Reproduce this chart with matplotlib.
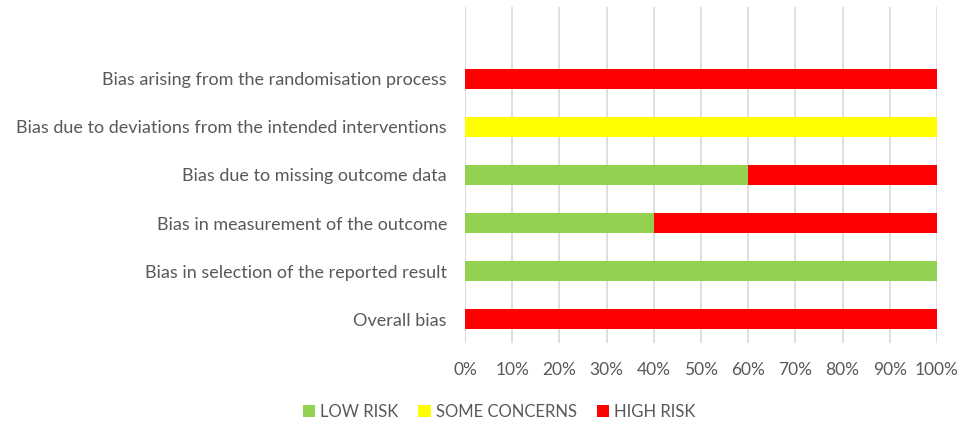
import matplotlib

matplotlib.use("Agg")
import matplotlib.pyplot as plt
from matplotlib.patches import Patch
from matplotlib.ticker import PercentFormatter

domains = [
    "Bias arising from the randomisation process",
    "Bias due to deviations from the intended interventions",
    "Bias due to missing outcome data",
    "Bias in measurement of the outcome",
    "Bias in selection of the reported result",
    "Overall bias",
]
low_risk = [0, 0, 60, 40, 100, 0]
some_concerns = [0, 100, 0, 0, 0, 0]
high_risk = [100, 0, 40, 60, 0, 100]

series = [
    ("LOW RISK", low_risk, "#92D050"),
    ("SOME CONCERNS", some_concerns, "#FFFF00"),
    ("HIGH RISK", high_risk, "#FF0000"),
]

plt.rcParams["font.family"] = ["Lato", "DejaVu Sans"]
text_color = "#595959"

fig = plt.figure(figsize=(9.71, 4.23), dpi=100)
ax = fig.add_axes([0.4789, 0.189, 0.4861, 0.7946])

positions = list(range(len(domains)))
left = [0] * len(domains)
for name, values, color in series:
    ax.barh(positions, values, left=left, height=0.42, color=color, zorder=3)
    left = [a + b for a, b in zip(left, values)]

ax.set_xlim(0, 100)
ax.set_ylim(5.5, -1.5)
ax.set_xticks(range(0, 101, 10))
ax.xaxis.set_major_formatter(PercentFormatter(decimals=0))
ax.set_yticks(positions, labels=domains)
ax.grid(axis="x", color="#D9D9D9", linewidth=1.2, zorder=0)
ax.axvline(0, color="#D9D9D9", linewidth=1.5, zorder=1)
for spine in ax.spines.values():
    spine.set_visible(False)
ax.tick_params(axis="both", length=0, colors=text_color)
ax.tick_params(axis="x", pad=14, labelsize=12.5)
ax.tick_params(axis="y", pad=13, labelsize=13)

handles = [Patch(facecolor=color, label=name) for name, _, color in series]
fig.legend(
    handles=handles,
    loc="center",
    bbox_to_anchor=(0.514, 0.026),
    ncol=3,
    frameon=False,
    fontsize=12,
    labelcolor=text_color,
    handlelength=0.75,
    handleheight=0.75,
    handletextpad=0.3,
    columnspacing=1.2,
)

fig.savefig("out.png", dpi=100)
